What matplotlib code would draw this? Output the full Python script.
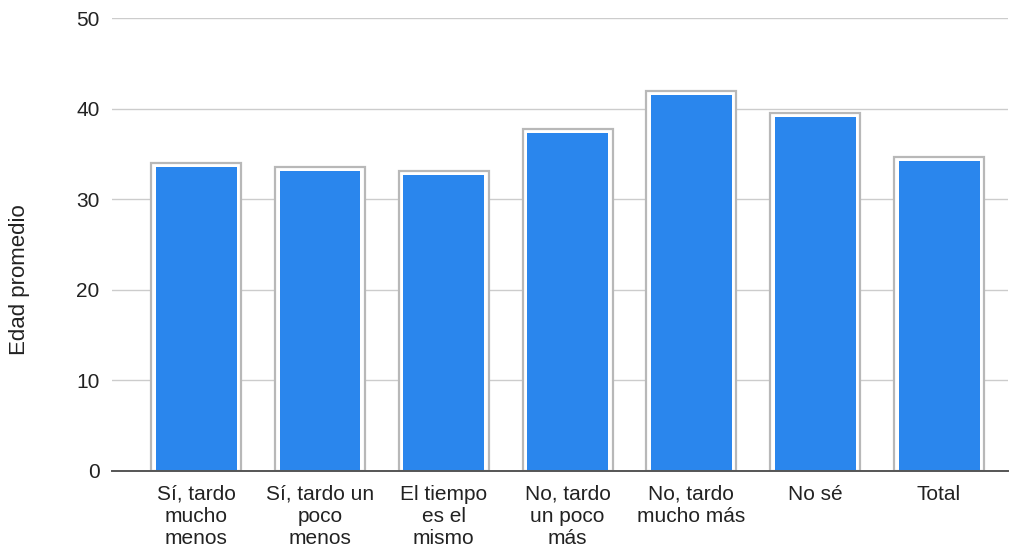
import numpy as np
import matplotlib
matplotlib.use("Agg")
import matplotlib.pyplot as plt

plt.rcParams['font.family'] = ['Liberation Sans', 'DejaVu Sans']

categories = ["Sí, tardo\nmucho\nmenos", "Sí, tardo un\npoco\nmenos", "El tiempo\nes el\nmismo",
              "No, tardo\nun poco\nmás", "No, tardo\nmucho más", "No sé", "Total"]
edad = [33.6, 33.1, 32.7, 37.3, 41.5, 39.1, 34.2]
yticks = [0, 10, 20, 30, 40, 50]

fig = plt.figure(figsize=(10.12, 5.48), dpi=100)
ax = fig.add_axes([112 / 1012, 1 - 471 / 548, (1008 - 112) / 1012, (471 - 18) / 548])

x = np.arange(len(categories))
# outer gray frame, then the blue bar inside it
ax.bar(x, np.array(edad) + 0.45, width=0.727, color='white', edgecolor='#b8b8b8', linewidth=1.6, zorder=2)
ax.bar(x, edad, width=0.654, color='#2a86ed', edgecolor='none', zorder=3)

ax.set_ylim(0, 50)
ax.set_xlim(-0.68, len(categories) - 1 + 0.557)
ax.set_yticks(yticks)
ax.set_yticklabels([str(t) for t in yticks], fontsize=15, color='#222222')
ax.set_xticks(x)
ax.set_xticklabels(categories, fontsize=15, color='#222222', linespacing=1.2)
ax.tick_params(axis='both', length=0)
ax.tick_params(axis='y', pad=9)
ax.tick_params(axis='x', pad=10)
ax.grid(axis='y', color='#cccccc', linewidth=1, zorder=0)
ax.set_axisbelow(True)
for s in ['top', 'right', 'left']:
    ax.spines[s].set_visible(False)
ax.spines['bottom'].set_color('#555555')
ax.spines['bottom'].set_linewidth(1.4)
ax.spines['bottom'].set_zorder(4)

fig.text(20 / 1012, 1 - 280 / 548, "Edad promedio", rotation=90, fontsize=16,
         color='#222222', ha='center', va='center')

fig.savefig("out.png", dpi=100)
